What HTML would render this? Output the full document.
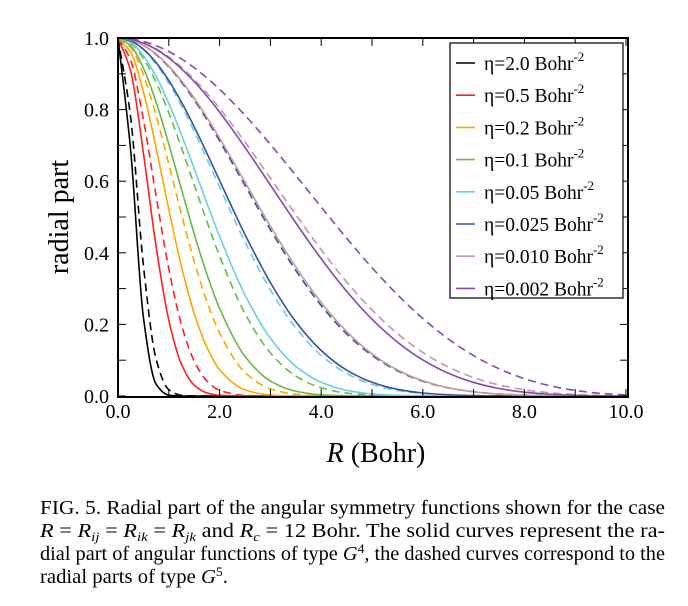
<!DOCTYPE html>
<html><head><meta charset="utf-8">
<style>
html,body{margin:0;padding:0;background:#fff;}
body{width:688px;height:606px;overflow:hidden;position:relative;font-family:"Liberation Serif",serif;}
svg{position:absolute;left:0;top:0;}
</style></head>
<body>
<svg id="chart" width="688" height="606" font-family="Liberation Serif, serif">
  <g id="curves"></g>
  <rect x="118" y="38" width="510" height="359" fill="none" stroke="#000" stroke-width="2"/>
  <g id="ticks"></g>
  <text x="376" y="462" text-anchor="middle" font-size="28"><tspan font-style="italic">R</tspan> (Bohr)</text>
  <text transform="translate(68,217) rotate(-90)" text-anchor="middle" font-size="28">radial part</text>
  <g id="legend">
    <rect x="450" y="43" width="173" height="255" fill="#fff" stroke="#000" stroke-width="1.2"/>
  </g>
  <g font-size="19.5">
    <text x="40" y="514" textLength="625" lengthAdjust="spacingAndGlyphs">FIG. 5.  Radial part of the angular symmetry functions shown for the case</text>
    <text x="40" y="537" textLength="625" lengthAdjust="spacingAndGlyphs"><tspan font-style="italic">R</tspan> = <tspan font-style="italic">R</tspan><tspan font-style="italic" font-size="13" dy="4">ij</tspan><tspan dy="-4"> = </tspan><tspan font-style="italic">R</tspan><tspan font-style="italic" font-size="13" dy="4">ik</tspan><tspan dy="-4"> = </tspan><tspan font-style="italic">R</tspan><tspan font-style="italic" font-size="13" dy="4">jk</tspan><tspan dy="-4"> and </tspan><tspan font-style="italic">R</tspan><tspan font-style="italic" font-size="13" dy="4">c</tspan><tspan dy="-4"> = 12 Bohr. The solid curves represent the ra-</tspan></text>
    <text x="40" y="560" textLength="625" lengthAdjust="spacingAndGlyphs">dial part of angular functions of type <tspan font-style="italic">G</tspan><tspan font-size="13" dy="-7">4</tspan><tspan dy="7">, the dashed curves correspond to the</tspan></text>
    <text x="40" y="583" textLength="188" lengthAdjust="spacingAndGlyphs">radial parts of type <tspan font-style="italic">G</tspan><tspan font-size="13" dy="-7">5</tspan><tspan dy="7">.</tspan></text>
  </g>
</svg>
<script>
const xs = [0,0.25,0.5,0.75,1,1.25,1.5,1.75,2,2.5,3,3.5,4,4.5,5,5.5,6,6.5,7,7.5,8,8.5,9,9.5,10];
const etaLabels = ["2.0","0.5","0.2","0.1","0.05","0.025","0.010","0.002"];
const colors = ["#000000","#ff2020","#ffa500","#66bb44","#6ccfe0","#3650a6","#c49898","#8648b0"];
const g4_eta2 = [1,.685,.220,.033,.0024,0,0,0,0,0,0,0,0,0,0,0,0,0,0,0,0,0,0,0,0];
const g5_eta2 = [1,.777,.365,.103,.0177,.0018,.0001,0,0,0,0,0,0,0,0,0,0,0,0,0,0,0,0,0,0];
const g4_eta05 = [1,.9076,.6785,.4178,.2119,.0886,.0304,.0086,.0020,.0001,0,0,0,0,0,0,0,0,0,0,0,0,0,0,0];
const g5_eta05 = [1,.9374,.7722,.5589,.3555,.1986,.0975,.0421,.0159,.0016,.0001,0,0,0,0,0,0,0,0,0,0,0,0,0,0];
const g4_eta02 = [1,.9601,.8497,.6932,.5212,.3612,.2307,.1358,.0737,.0170,.0028,.0003,0,0,0,0,0,0,0,0,0,0,0,0,0];
const g5_eta02 = [1,.9732,.8971,.7832,.6477,.5072,.3762,.2643,.1758,.0660,.0199,.0048,.0009,.0001,0,0,0,0,0,0,0,0,0,0,0];
const g4_eta01 = [1,.9783,.9158,.8206,.7036,.5773,.4532,.3404,.2446,.1106,.0418,.0132,.0035,.0008,.0001,0,0,0,0,0,0,0,0,0,0];
const g5_eta01 = [1,.9855,.9431,.8765,.7911,.6933,.5900,.4875,.3911,.2304,.1204,.0558,.0229,.0083,.0027,.0008,.0002,0,0,0,0,0,0,0,0];
const g4_eta005 = [1,.9875,.9509,.8929,.8175,.7298,.6352,.5390,.4457,.2823,.1612,.0829,.0383,.0158,.0059,.0019,.0006,.0001,0,0,0,0,0,0,0];
const g5_eta005 = [1,.9917,.9670,.9272,.8742,.8105,.7389,.6622,.5835,.4304,.2962,.1901,.1136,.0631,.0325,.0155,.0068,.0028,.0010,.0003,.0001,0,0,0,0];
const g4_eta0025 = [1,.9921,.9689,.9314,.8811,.8205,.7519,.6781,.6017,.4512,.3167,.2077,.1271,.0724,.0383,.0187,.0084,.0035,.0013,.0004,.0001,0,0,0,0];
const g5_eta0025 = [1,.9948,.9792,.9537,.9191,.8764,.8269,.7719,.7127,.5882,.4646,.3507,.2527,.1737,.1135,.0704,.0413,.0228,.0118,.0057,.0026,.0010,.0004,.0001,0];
const g4_eta001 = [1,.9949,.9798,.9552,.9217,.8802,.8320,.7783,.7203,.5977,.4747,.3604,.2611,.1800,.1178,.0729,.0425,.0231,.0117,.0054,.0023,.0009,.0003,.0001,0];
const g5_eta001 = [1,.9966,.9865,.9699,.9471,.9184,.8846,.8461,.8036,.7095,.6086,.5064,.4084,.3188,.2403,.1745,.1217,.0812,.0515,.0309,.0174,.0090,.0043,.0018,.0006];
const g4_eta0002 = [1,.9964,.9857,.9682,.9441,.9139,.8782,.8377,.7930,.6944,.5892,.4836,.3833,.2926,.2146,.1506,.1007,.0638,.0379,.0210,.0106,.0049,.0019,.0006,.0002];
const g5_eta0002 = [1,.9976,.9905,.9787,.9623,.9417,.9170,.8885,.8567,.7841,.7028,.6161,.5276,.4408,.3585,.2831,.2165,.1596,.1129,.0761,.0484,.0287,.0155,.0074,.0030];
const xTicks = [0,1,2,3,4,5,6,7,8,9,10];
const xTickLabels = ["0.0","","2.0","","4.0","","6.0","","8.0","","10.0"];
const yTicks = [0,0.1,0.2,0.3,0.4,0.5,0.6,0.7,0.8,0.9,1.0];
const yTickLabels = ["0.0","","0.2","","0.4","","0.6","","0.8","","1.0"];

const NS = "http://www.w3.org/2000/svg";
const X0=118, X1=626, Y0=396, Y1=38;
function xScale(v){return X0+(v/10)*(X1-X0);}
function yScale(v){return Y0-v*(Y0-Y1);}

function monotonePath(xv, yv){
  const n=xv.length, px=xv.map(xScale), py=yv.map(yScale);
  const d=[], m=new Array(n);
  for(let i=0;i<n-1;i++) d.push((py[i+1]-py[i])/(px[i+1]-px[i]));
  m[0]=d[0]; m[n-1]=d[n-2];
  for(let i=1;i<n-1;i++){
    if(d[i-1]*d[i]<=0) m[i]=0;
    else { const w1=2*(px[i+1]-px[i])+(px[i]-px[i-1]), w2=(px[i+1]-px[i])+2*(px[i]-px[i-1]);
      m[i]=(w1+w2)/(w1/d[i-1]+w2/d[i]); }
  }
  let s="M"+px[0].toFixed(2)+","+py[0].toFixed(2);
  for(let i=0;i<n-1;i++){
    const h=px[i+1]-px[i];
    s+=" C"+(px[i]+h/3).toFixed(2)+","+(py[i]+m[i]*h/3).toFixed(2)+" "+(px[i+1]-h/3).toFixed(2)+","+(py[i+1]-m[i+1]*h/3).toFixed(2)+" "+px[i+1].toFixed(2)+","+py[i+1].toFixed(2);
  }
  return s;
}

const solidSeries=[g4_eta2,g4_eta05,g4_eta02,g4_eta01,g4_eta005,g4_eta0025,g4_eta001,g4_eta0002];
const dashedSeries=[g5_eta2,g5_eta05,g5_eta02,g5_eta01,g5_eta005,g5_eta0025,g5_eta001,g5_eta0002];
const curves=document.getElementById("curves");
for(let k=0;k<8;k++){
  const p=document.createElementNS(NS,"path");
  p.setAttribute("d",monotonePath(xs,solidSeries[k]));
  p.setAttribute("fill","none");p.setAttribute("stroke",colors[k]);p.setAttribute("stroke-width","1.6");
  
  
  curves.appendChild(p);
  const q=document.createElementNS(NS,"path");
  q.setAttribute("d",monotonePath(xs,dashedSeries[k]));
  q.setAttribute("fill","none");q.setAttribute("stroke",colors[k]);q.setAttribute("stroke-width","1.6");
  q.setAttribute("stroke-dasharray","8,5");
  
  
  curves.appendChild(q);
}

const ticks=document.getElementById("ticks");
xTicks.forEach((v,i)=>{
  const x=xScale(v);
  for(const [ya,yb] of [[397,389],[38,46]]){
    const l=document.createElementNS(NS,"line");
    l.setAttribute("x1",x);l.setAttribute("x2",x);l.setAttribute("y1",ya);l.setAttribute("y2",yb);
    l.setAttribute("stroke","#000");l.setAttribute("stroke-width","1");
    
    
    ticks.appendChild(l);
  }
  if(xTickLabels[i]){
    const t=document.createElementNS(NS,"text");
    t.setAttribute("x",x);t.setAttribute("y",418);t.setAttribute("text-anchor","middle");t.setAttribute("font-size","20");
    t.textContent=xTickLabels[i];
    
    
    ticks.appendChild(t);
  }
});
yTicks.forEach((v,i)=>{
  const y=yScale(v);
  for(const [xa,xb] of [[118,126],[628,620]]){
    const l=document.createElementNS(NS,"line");
    l.setAttribute("x1",xa);l.setAttribute("x2",xb);l.setAttribute("y1",y);l.setAttribute("y2",y);
    l.setAttribute("stroke","#000");l.setAttribute("stroke-width","1");
    
    
    ticks.appendChild(l);
  }
  if(yTickLabels[i]){
    const t=document.createElementNS(NS,"text");
    t.setAttribute("x",109);t.setAttribute("y",y+7);t.setAttribute("text-anchor","end");t.setAttribute("font-size","20");
    t.textContent=yTickLabels[i];
    
    
    ticks.appendChild(t);
  }
});

const legend=document.getElementById("legend");
for(let k=0;k<8;k++){
  const y=63+k*32.2;
  const g=document.createElementNS(NS,"g");
  
  
  const l=document.createElementNS(NS,"line");
  l.setAttribute("x1",456);l.setAttribute("x2",475);l.setAttribute("y1",y);l.setAttribute("y2",y);
  l.setAttribute("stroke",colors[k]);l.setAttribute("stroke-width","1.6");
  g.appendChild(l);
  const t=document.createElementNS(NS,"text");
  t.setAttribute("x",484);t.setAttribute("y",y+7);t.setAttribute("font-size","19.5");
  t.innerHTML="η="+etaLabels[k]+" Bohr<tspan font-size='13' dy='-9'>-2</tspan>";
  g.appendChild(t);
  legend.appendChild(g);
}
</script>
</body></html>
